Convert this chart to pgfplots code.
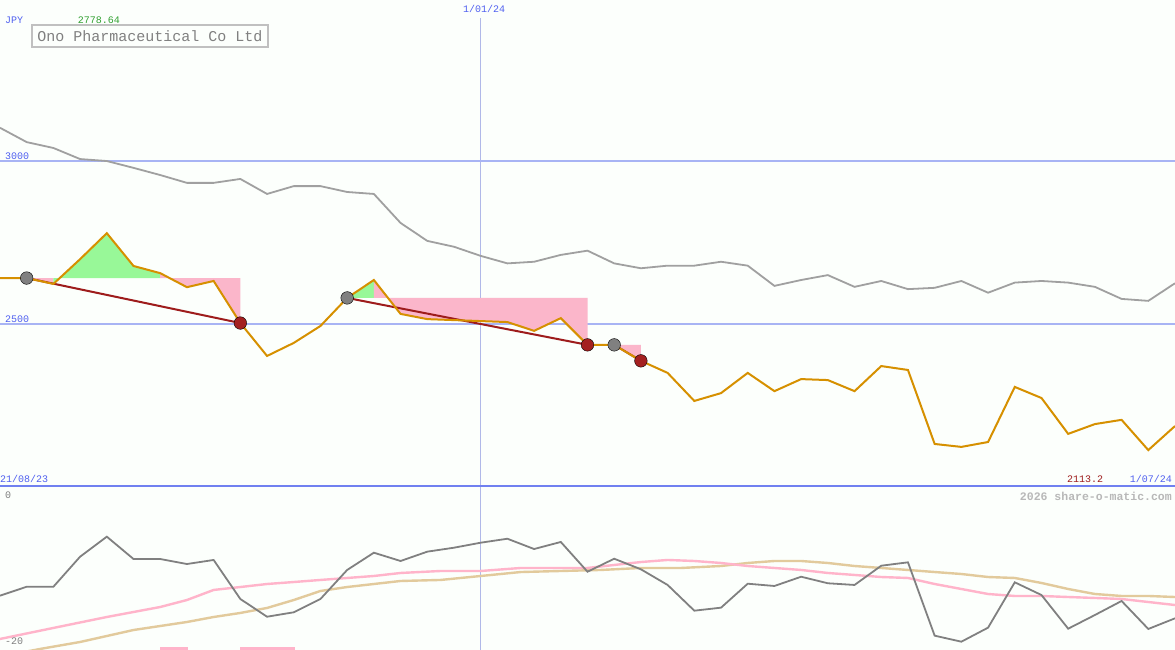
\documentclass[border=0pt]{standalone}
\usepackage{pgfplots}
\pgfplotsset{compat=1.18}
\usepackage{fontspec}
\setmonofont{Liberation Mono}

\definecolor{bg}{HTML}{FCFFFC}
\definecolor{gridblue}{HTML}{A8B4F4}
\definecolor{baseblue}{HTML}{7080F0}
\definecolor{txtblue}{HTML}{5060F0}
\definecolor{vline}{HTML}{B0B8E8}
\definecolor{price}{HTML}{D69000}
\definecolor{avg}{HTML}{A0A0A0}
\definecolor{upfill}{HTML}{98F898}
\definecolor{dnfill}{HTML}{FBB6CA}
\definecolor{trend}{HTML}{9E1C1C}
\definecolor{dotgray}{HTML}{808080}
\definecolor{dotred}{HTML}{A42020}
\definecolor{osc}{HTML}{808080}
\definecolor{oscpink}{HTML}{FFB4CA}
\definecolor{osctan}{HTML}{E2CA9C}
\definecolor{txtgreen}{HTML}{30A030}

% weekly closes, x = week index
\pgfplotstableread{
k p
0 2641
1 2641
2 2623
3 2699
4 2778.6
5 2678
6 2656
7 2613
8 2632
9 2503
10 2402
11 2442
12 2494
13 2580
14 2635
15 2531
16 2515
17 2512
18 2509
19 2506
20 2479
21 2518
22 2436
23 2436
24 2387
25 2350
26 2264
27 2288
28 2350
29 2294
30 2331
31 2328
32 2294
33 2371
34 2359
35 2132
36 2123
37 2138
38 2307
39 2273
40 2163
41 2193
42 2206
43 2113.2
44 2187
}\closes

\pgfplotstableread{
k p
0 3102
1 3058
2 3040
3 3006
4 3000
5 2979
6 2957
7 2933
8 2933
9 2945
10 2899
11 2923
12 2923
13 2905
14 2899
15 2810
16 2755
17 2737
18 2709
19 2686
20 2691
21 2712
22 2725
23 2686
24 2671
25 2679
26 2679
27 2691
28 2679
29 2617
30 2635
31 2650
32 2614
33 2632
34 2607
35 2611
36 2632
37 2596
38 2627
39 2632
40 2627
41 2614
42 2577
43 2571
44 2625
}\average

\pgfplotstableread{
k v
0 -13.02
1 -11.80
2 -11.80
3 -7.71
4 -4.99
5 -8.03
6 -8.03
7 -8.71
8 -8.16
9 -13.47
10 -15.88
11 -15.28
12 -13.47
13 -9.52
14 -7.17
15 -8.30
16 -7.03
17 -6.49
18 -5.81
19 -5.27
20 -6.67
21 -5.71
22 -9.76
23 -7.99
24 -9.43
25 -11.56
26 -15.06
27 -14.65
28 -11.39
29 -11.70
30 -10.44
31 -11.33
32 -11.56
33 -8.94
34 -8.48
35 -18.46
36 -19.28
37 -17.37
38 -11.20
39 -12.93
40 -17.51
41 -15.65
42 -13.74
43 -17.55
44 -16.10
}\oscmain

\pgfplotstableread{
k v
0 -18.91
2 -17.41
4 -15.92
6 -14.56
7 -13.61
8 -12.24
9 -11.84
10 -11.43
11 -11.16
12 -10.88
13 -10.61
14 -10.34
15 -9.93
16.5 -9.66
18 -9.66
19.5 -9.25
21 -9.25
22 -9.25
23 -8.84
24 -8.44
25 -8.16
26 -8.30
27 -8.57
28 -8.98
29 -9.25
30 -9.52
31 -9.93
32 -10.20
33 -10.48
34 -10.61
35 -11.43
36 -12.11
37 -12.79
38 -13.06
39 -13.06
40 -13.20
41 -13.33
42 -13.47
43 -13.88
44 -14.29
}\oscfast

\pgfplotstableread{
k v
0 -21.30
1.5 -20.27
3 -19.32
5 -17.69
7 -16.60
8 -15.92
9 -15.37
10 -14.69
11 -13.61
12 -12.38
13 -11.84
15 -11.02
16.5 -10.88
18 -10.34
19.5 -9.80
21 -9.66
22.5 -9.52
24 -9.25
25.5 -9.25
27 -8.98
28 -8.57
29 -8.30
30 -8.30
31 -8.57
32 -8.98
33 -9.25
34 -9.52
35 -9.80
36 -10.07
37 -10.48
38 -10.61
39 -11.29
40 -12.11
41 -12.79
42 -13.06
43 -13.06
44 -13.20
}\oscslow

\begin{document}
\begin{tikzpicture}[x=1pt,y=1pt]
  \useasboundingbox (0,0) rectangle (1175,650);
  \fill[bg] (0,0) rectangle (1175,650);

  % price panel
  \begin{axis}[
      at={(0,163pt)}, anchor=south west,
      scale only axis, width=1175pt, height=487pt,
      hide axis,
      xmin=0, xmax=44, ymin=2000, ymax=3494,
    ]
    \addplot[vline, line width=1pt] coordinates {(18,2000)(18,3440)};
    \addplot[gridblue, line width=2pt] coordinates {(0,3000)(44,3000)};
    \addplot[gridblue, line width=2pt] coordinates {(0,2500)(44,2500)};
    \addplot[baseblue, line width=2.2pt] coordinates {(0,2003)(44,2003)};

    \addplot[avg, line width=1.8pt] table[x=k, y=p] {\average};

    % areas against the level where each trend started
    \addplot[fill=dnfill, draw=none] coordinates {(1,2641)(2,2623)(2,2641)} -- cycle;
    \addplot[fill=upfill, draw=none] coordinates {(2,2641)(2,2623)(3,2699)(4,2778.6)(5,2678)(6,2656)(6,2641)} -- cycle;
    \addplot[fill=dnfill, draw=none] coordinates {(6,2641)(6,2656)(7,2613)(8,2632)(9,2503)(9,2641)} -- cycle;
    \addplot[fill=upfill, draw=none] coordinates {(13,2580)(14,2635)(14,2580)} -- cycle;
    \addplot[fill=dnfill, draw=none] coordinates {(14,2580)(14,2635)(15,2531)(16,2515)(17,2512)(18,2509)(19,2506)(20,2479)(21,2518)(22,2436)(22,2580)} -- cycle;
    \addplot[fill=dnfill, draw=none] coordinates {(23,2436)(24,2387)(24,2436)} -- cycle;

    \addplot[trend, line width=2pt] coordinates {(1,2641)(9,2503)};
    \addplot[trend, line width=2pt] coordinates {(13,2580)(22,2436)};
    \addplot[trend, line width=2pt] coordinates {(23,2436)(24,2387)};

    \addplot[only marks, mark=*, mark size=6.3pt, mark options={fill=dotgray, draw=none}]
      coordinates {(1,2641)(13,2580)(23,2436)};
    \addplot[only marks, mark=*, mark size=6.3pt, mark options={fill=dotred, draw=none}]
      coordinates {(9,2503)(22,2436)(24,2387)};

    \addplot[price, line width=2pt] table[x=k, y=p] {\closes};
  \end{axis}

  % oscillator panel
  \begin{axis}[
      at={(0,0)}, anchor=south west,
      scale only axis, width=1175pt, height=163pt,
      hide axis,
      xmin=0, xmax=44, ymin=-20.41, ymax=1.77,
    ]
    \addplot[vline, line width=1pt] coordinates {(18,-21)(18,1.77)};
    \addplot[fill=oscpink, draw=none] coordinates {(6,-20)(7.04,-20)(7.04,-21)(6,-21)} -- cycle;
    \addplot[fill=oscpink, draw=none] coordinates {(9,-20)(11.05,-20)(11.05,-21)(9,-21)} -- cycle;
    \addplot[osctan, line width=2.4pt] table[x=k, y=v] {\oscslow};
    \addplot[oscpink, line width=2.4pt] table[x=k, y=v] {\oscfast};
    \addplot[osc, line width=1.8pt] table[x=k, y=v] {\oscmain};
  \end{axis}

  % labels
  \begin{scope}[every node/.style={inner sep=0pt, font=\ttfamily\fontsize{10}{10}\selectfont}]
    \node[anchor=west, text=txtblue] at (5,630) {JPY};
    \node[text=txtgreen] at (99,630) {2778.64};
    \node[text=txtblue] at (484,641) {1/01/24};
    \node[anchor=west, text=txtblue] at (5,494) {3000};
    \node[anchor=west, text=txtblue] at (5,331) {2500};
    \node[anchor=west, text=txtblue] at (0,171) {21/08/23};
    \node[text=trend] at (1085,171) {2113.2};
    \node[anchor=east, text=txtblue] at (1172,171) {1/07/24};
    \node[anchor=west, text=dotgray] at (5,155) {0};
    \node[anchor=west, text=dotgray] at (5,9) {-20};
    \node[anchor=east, text={rgb,255:red,184;green,184;blue,184}, font=\ttfamily\bfseries\fontsize{11.5}{11.5}\selectfont] at (1172,154) {2026 share-o-matic.com};
  \end{scope}
  \draw[draw={rgb,255:red,192;green,192;blue,192}, line width=2pt, fill=bg] (32,603) rectangle (268,625);
  \node[inner sep=0pt, text=dotgray, font=\ttfamily\fontsize{15}{15}\selectfont] at (150,614) {Ono Pharmaceutical Co Ltd};
\end{tikzpicture}
\end{document}
